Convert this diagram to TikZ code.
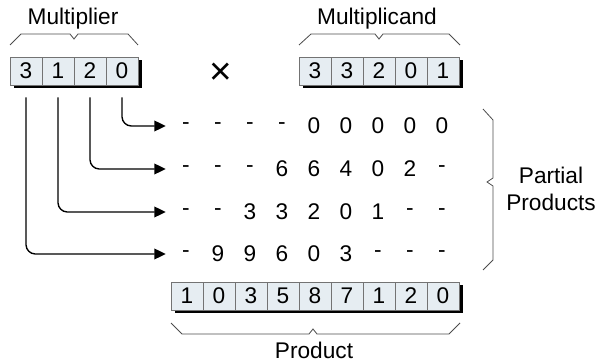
\documentclass[tikz,border=0pt]{standalone}
\usepackage{fontspec}
\setmainfont{Liberation Sans}
\usetikzlibrary{arrows.meta,shadows}
\definecolor{cellblue}{HTML}{E6EDF2}

\begin{document}
\begin{tikzpicture}[
    x=0.75pt, y=-0.75pt,
    font=\fontsize{17}{20}\selectfont,
    cell/.style={
        rectangle,
        draw=black!55,
        line width=0.6pt,
        fill=cellblue,
        minimum width=24pt,
        minimum height=21pt,
        inner sep=0pt,
        drop shadow={shadow xshift=3pt, shadow yshift=-2.4pt, opacity=1, fill=black}
    },
    digit/.style={minimum width=24pt, minimum height=18pt, inner sep=0pt},
    arrow/.style={-{Triangle[length=8.5pt,width=8pt]}, line width=1pt, rounded corners=7pt, shorten <=9pt, shorten >=3pt},
    brace/.style={draw=black!70, line width=0.6pt}
]
\useasboundingbox (0,0) rectangle (596,363);

% multiplier
\node[cell] (mr1) at (26,71) {3};
\node[cell] (mr2) at (58,71) {1};
\node[cell] (mr3) at (90,71) {2};
\node[cell] (mr4) at (122,71) {0};
\node (mrlabel) at (73,19) {Multiplier};
\draw[brace] (10,45) -- (21,34) -- (70,34) -- (74,39) -- (78,34) -- (128,34) -- (138,45);

\node[font=\fontsize{29}{29}\selectfont, inner sep=0pt] (times) at (221,74) {×};

% multiplicand
\node[cell] (md1) at (315,71) {3};
\node[cell] (md2) at (347,71) {3};
\node[cell] (md3) at (379,71) {2};
\node[cell] (md4) at (411,71) {0};
\node[cell] (md5) at (443,71) {1};
\node (mdlabel) at (377,19) {Multiplicand};
\draw[brace] (299,45) -- (311,34) -- (375,34) -- (379,39) -- (383,34) -- (449,34) -- (460,45);

% partial products
\node[digit] (p1c1) at (186,126) {-};
\node[digit] (p1c2) at (218,126) {-};
\node[digit] (p1c3) at (250,126) {-};
\node[digit] (p1c4) at (282,126) {-};
\node[digit] (p1c5) at (314,126) {0};
\node[digit] (p1c6) at (346,126) {0};
\node[digit] (p1c7) at (378,126) {0};
\node[digit] (p1c8) at (410,126) {0};
\node[digit] (p1c9) at (442,126) {0};

\node[digit] (p2c1) at (186,169) {-};
\node[digit] (p2c2) at (218,169) {-};
\node[digit] (p2c3) at (250,169) {-};
\node[digit] (p2c4) at (282,169) {6};
\node[digit] (p2c5) at (314,169) {6};
\node[digit] (p2c6) at (346,169) {4};
\node[digit] (p2c7) at (378,169) {0};
\node[digit] (p2c8) at (410,169) {2};
\node[digit] (p2c9) at (442,169) {-};

\node[digit] (p3c1) at (186,212) {-};
\node[digit] (p3c2) at (218,212) {-};
\node[digit] (p3c3) at (250,212) {3};
\node[digit] (p3c4) at (282,212) {3};
\node[digit] (p3c5) at (314,212) {2};
\node[digit] (p3c6) at (346,212) {0};
\node[digit] (p3c7) at (378,212) {1};
\node[digit] (p3c8) at (410,212) {-};
\node[digit] (p3c9) at (442,212) {-};

\node[digit] (p4c1) at (186,254) {-};
\node[digit] (p4c2) at (218,254) {9};
\node[digit] (p4c3) at (250,254) {9};
\node[digit] (p4c4) at (282,254) {6};
\node[digit] (p4c5) at (314,254) {0};
\node[digit] (p4c6) at (346,254) {3};
\node[digit] (p4c7) at (378,254) {-};
\node[digit] (p4c8) at (410,254) {-};
\node[digit] (p4c9) at (442,254) {-};

\draw[brace] (483,109) -- (493,120) -- (493,178) -- (487,182) -- (493,186) -- (493,260) -- (483,270);
\node[align=center] (pplabel) at (551,189) {Partial\\Products};

% product
\node[cell] (pr1) at (187,296) {1};
\node[cell] (pr2) at (219,296) {0};
\node[cell] (pr3) at (251,296) {3};
\node[cell] (pr4) at (283,296) {5};
\node[cell] (pr5) at (315,296) {8};
\node[cell] (pr6) at (347,296) {7};
\node[cell] (pr7) at (379,296) {1};
\node[cell] (pr8) at (411,296) {2};
\node[cell] (pr9) at (443,296) {0};
\draw[brace] (171,323) -- (182,334) -- (309,334) -- (313,329) -- (317,334) -- (449,334) -- (460,323);
\node (prlabel) at (314,350) {Product};

\draw[arrow] (mr4.south) |- (p1c1.west);
\draw[arrow] (mr3.south) |- (p2c1.west);
\draw[arrow] (mr2.south) |- (p3c1.west);
\draw[arrow] (mr1.south) |- (p4c1.west);

\end{tikzpicture}
\end{document}
